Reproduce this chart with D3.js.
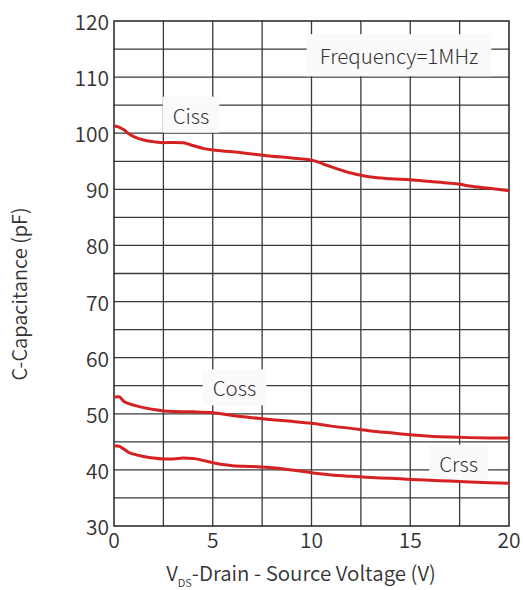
<!DOCTYPE html>
<html><head><meta charset="utf-8">
<script src="https://cdn.jsdelivr.net/npm/d3@7"></script>
<style>
html,body{margin:0;padding:0;background:#fff;}
svg text{font-family:"Noto Sans CJK JP","Noto Sans",sans-serif;fill:#333;}
</style></head>
<body><svg id="c" width="523" height="590"></svg>
<script>
const vds = [0,0.25,0.5,0.75,1,1.5,2,2.5,3,3.5,4,4.5,5,6,7,8,9,10,11,12,12.5,13,14,15,16,17,17.5,18,19,20];
const ciss = [101.3,101.1,100.6,99.9,99.4,98.8,98.5,98.3,98.35,98.3,97.8,97.3,97.0,96.7,96.3,95.9,95.6,95.2,94.0,92.9,92.5,92.2,91.9,91.7,91.4,91.1,90.9,90.6,90.2,89.75];
const vds2 = [0,0.25,0.5,0.75,1,1.5,2,2.5,3,4,5,6,7,8,9,10,11,12,13,14,15,16,17,18,19,20];
const coss = [53.0,53.05,52.2,51.8,51.55,51.1,50.75,50.5,50.4,50.35,50.2,49.7,49.3,48.95,48.65,48.3,47.8,47.4,46.95,46.6,46.25,46.0,45.85,45.75,45.7,45.67];
const vds3 = [0,0.25,0.5,0.75,1,1.5,2,2.5,3,3.5,4,4.5,5,5.5,6,7,8,9,10,11,12,13,14,15,16,17,18,19,20];
const crss = [44.3,44.2,43.7,43.1,42.8,42.4,42.1,41.95,41.95,42.1,42.05,41.7,41.3,40.95,40.75,40.6,40.4,40.0,39.5,39.1,38.85,38.65,38.5,38.3,38.15,38.0,37.85,37.7,37.6];
const xTicks = [0,5,10,15,20];
const yTicks = [30,40,50,60,70,80,90,100,110,120];
const xGrid = [2.5,5,7.5,10,12.5,15,17.5];
const yGrid = [35,40,45,50,55,60,65,70,75,80,85,90,95,100,105,110,115];
const seriesLabels = [
  {text:"Ciss", x:3.9, y:103.3},
  {text:"Coss", x:6.1, y:54.7},
  {text:"Crss", x:17.45, y:41.3}
];
const noteText = "Frequency=1MHz";

const svg = d3.select("#c");
const L=114, R=509, T=21, B=526;
const x = d3.scaleLinear().domain([0,20]).range([L,R]);
const y = d3.scaleLinear().domain([30,120]).range([B,T]);

const g = svg.append("g");
g.selectAll(".vg").data(xGrid).enter().append("line")
  .attr("x1",d=>x(d)).attr("x2",d=>x(d)).attr("y1",T).attr("y2",B)
  .attr("stroke","#3a3a3a").attr("stroke-width",1.3);
g.selectAll(".hg").data(yGrid).enter().append("line")
  .attr("x1",L).attr("x2",R).attr("y1",d=>y(d)).attr("y2",d=>y(d))
  .attr("stroke","#3a3a3a").attr("stroke-width",1.3);
g.append("rect").attr("x",L).attr("y",T).attr("width",R-L).attr("height",B-T)
  .attr("fill","none").attr("stroke","#222").attr("stroke-width",1.5);

function boxLabel(cx, cy, text, size, fill, px, py){
  const t = svg.append("text").attr("x",cx).attr("y",cy).attr("text-anchor","middle")
    .attr("dominant-baseline","central").attr("font-size",size).attr("font-weight",300).text(text);
  const bb = t.node().getBBox();
  svg.insert("rect", function(){return t.node();})
    .attr("x",bb.x-px).attr("y",bb.y-py).attr("width",bb.width+2*px).attr("height",bb.height+2*py)
    .attr("fill",fill);
}
boxLabel(x(14.43), y(113.9), noteText, 20.5, "#fafafa", 13, 6);
seriesLabels.forEach(s=>boxLabel(x(s.x), y(s.y), s.text, 20.5, "#fafafa", 10, 3));

const line = d3.line().curve(d3.curveMonotoneX);
function draw(xs, ys){
  svg.append("path").attr("d", line(xs.map((v,i)=>[x(v), y(ys[i])])))
    .attr("fill","none").attr("stroke","#d42222").attr("stroke-width",3);
}
draw(vds, ciss); draw(vds2, coss); draw(vds3, crss);

svg.selectAll(".yt").data(yTicks).enter().append("text")
  .attr("x",L-5).attr("y",d=>y(d)).attr("text-anchor","end").attr("dominant-baseline","central")
  .attr("font-size",21).attr("font-weight",350).text(d=>d);
svg.selectAll(".xt").data(xTicks).enter().append("text")
  .attr("x",d=>x(d)).attr("y",B+13).attr("text-anchor","middle").attr("dominant-baseline","central")
  .attr("font-size",21).attr("font-weight",350).text(d=>d);

const xt = svg.append("text").attr("x",301).attr("y",581).attr("text-anchor","middle")
  .attr("font-size",20.5).attr("font-weight",350);
xt.append("tspan").text("V");
xt.append("tspan").attr("font-size",11).attr("dy",6).text("DS");
xt.append("tspan").attr("dy",-6).text("-Drain - Source Voltage (V)");

svg.append("text").attr("transform","translate(27,294) rotate(-90)").attr("text-anchor","middle")
  .attr("font-size",20).attr("font-weight",350).text("C-Capacitance (pF)");
</script></body></html>
